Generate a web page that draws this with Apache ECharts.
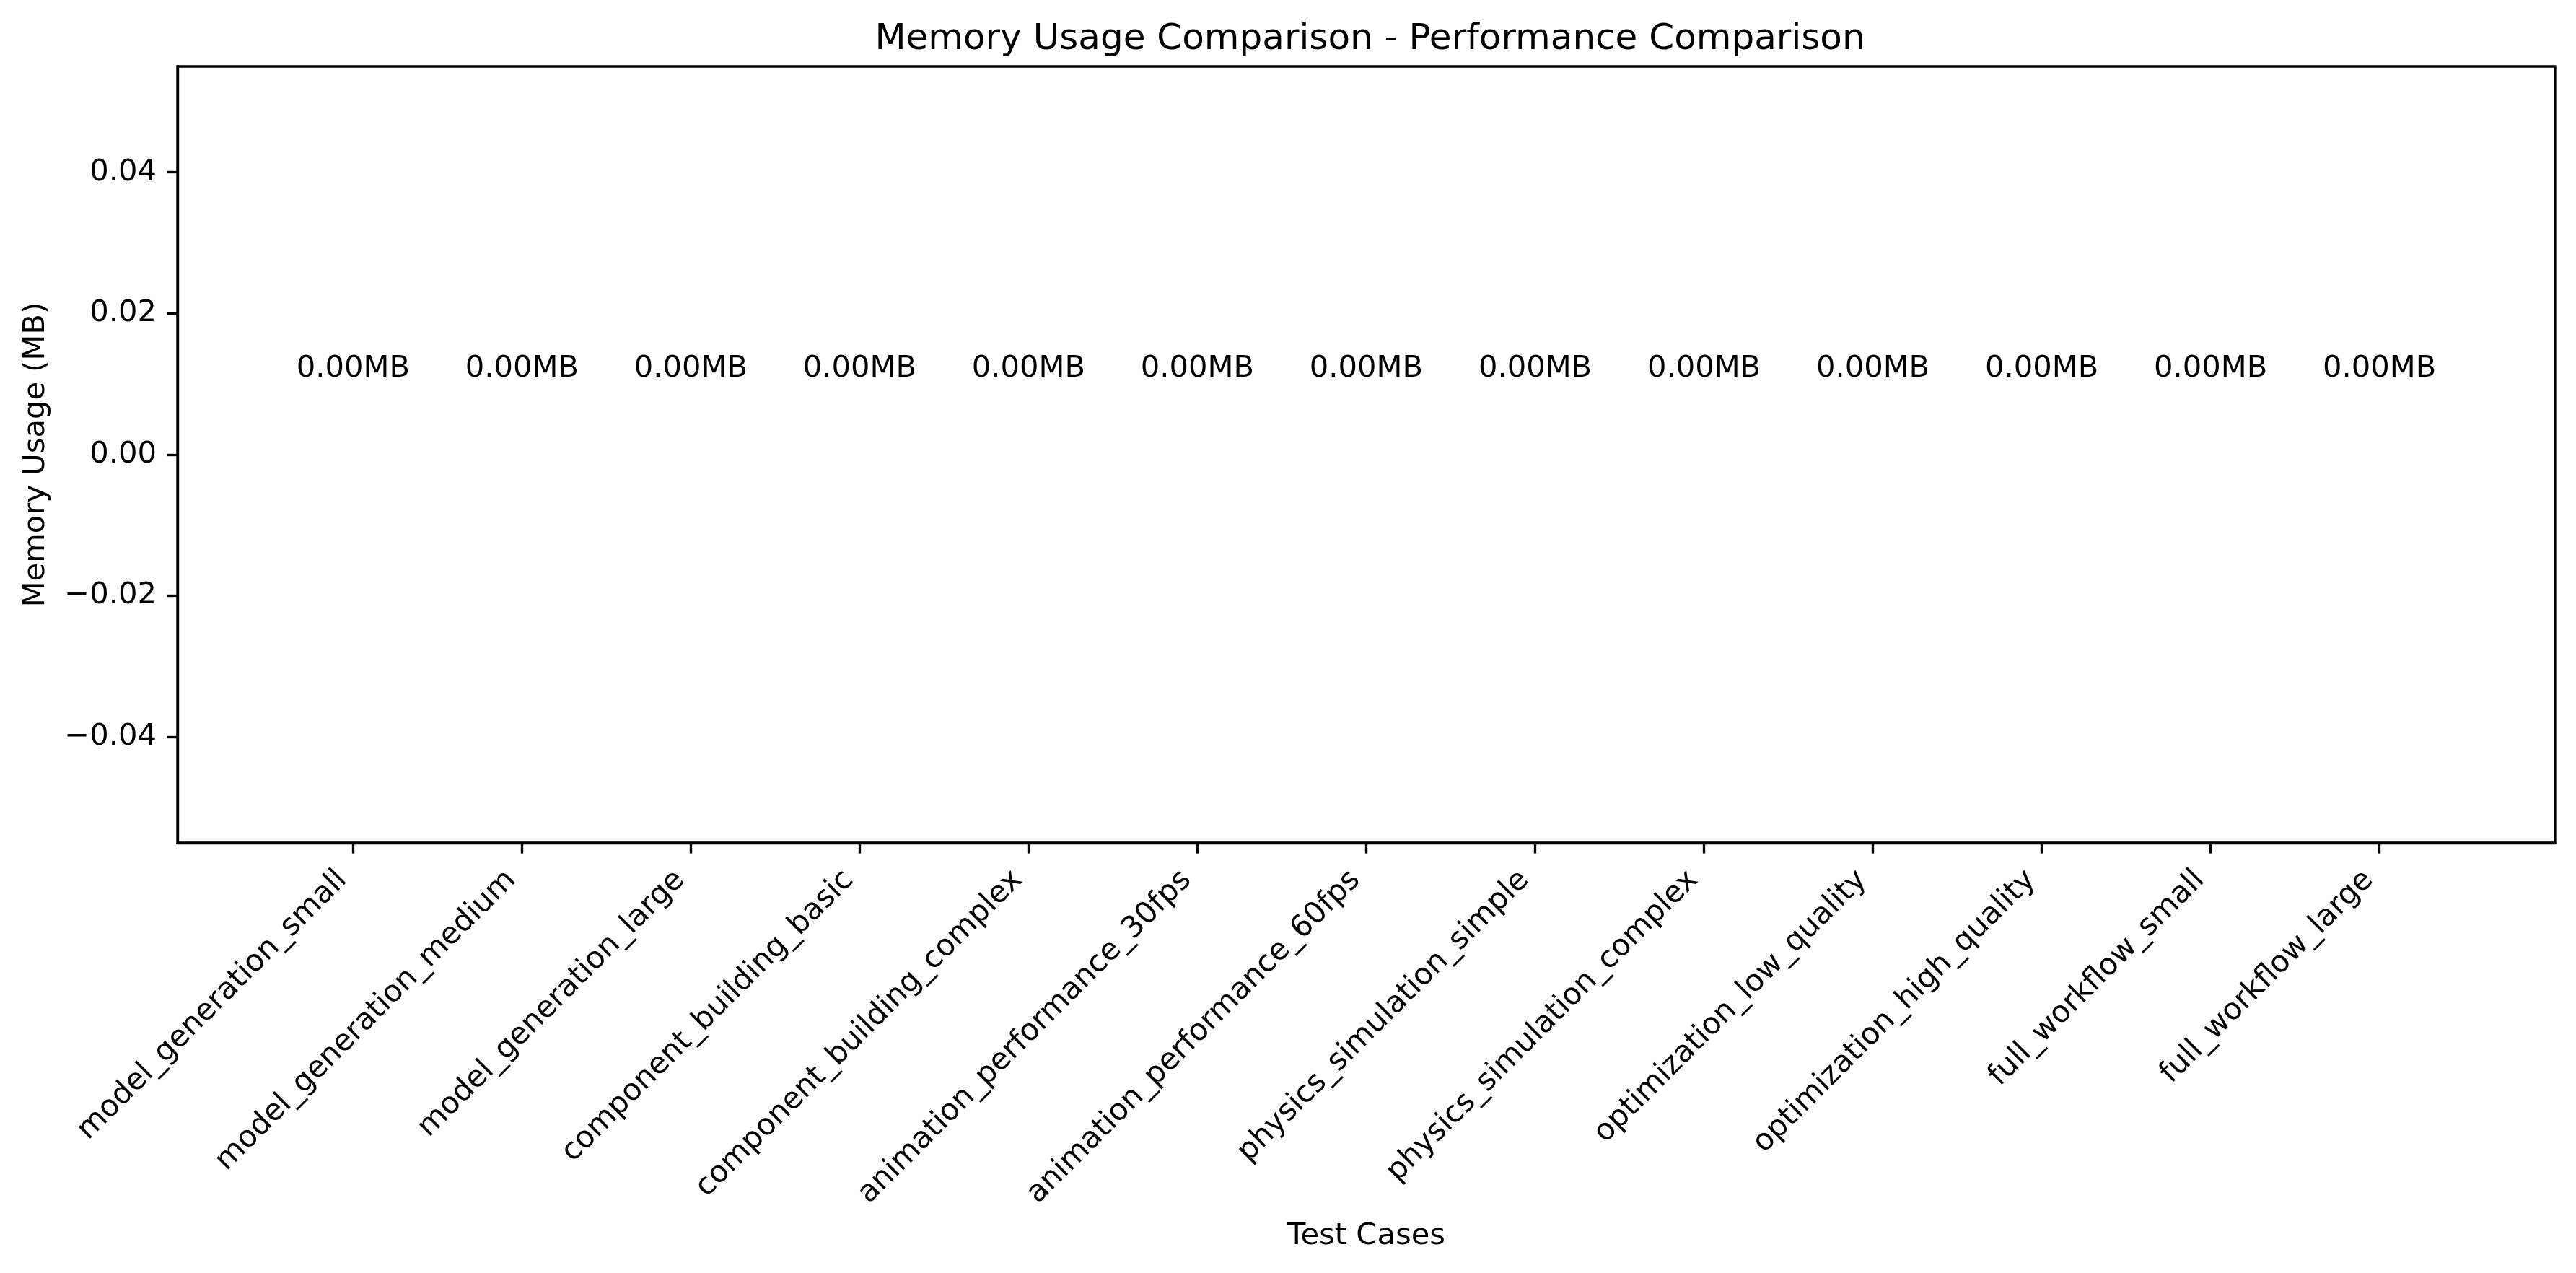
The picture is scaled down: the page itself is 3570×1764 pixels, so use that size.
<!DOCTYPE html>
<html><head><meta charset="utf-8">
<script src="https://cdn.jsdelivr.net/npm/echarts@6/dist/echarts.min.js"></script>
<style>html,body{margin:0;padding:0;background:#fff}#c{width:3570px;height:1764px}</style>
</head><body><div id="c"></div>
<script>
const categories = [
  'model_generation_small','model_generation_medium','model_generation_large',
  'component_building_basic','component_building_complex',
  'animation_performance_30fps','animation_performance_60fps',
  'physics_simulation_simple','physics_simulation_complex',
  'optimization_low_quality','optimization_high_quality',
  'full_workflow_small','full_workflow_large'
];
const memoryUsage = [0,0,0,0,0,0,0,0,0,0,0,0,0];
const yTickValues = [-0.04,-0.02,0.00,0.02,0.04];
const yMin = -0.055, yMax = 0.055;
const xMin = -1.04, xMax = 13.04;

const FONT = 'DejaVu Sans';
const LW = 3.33;
const fs = 41.67;
const gridTop = 92, gridBottomPx = 1168, gridLeft = 246, gridRightPx = 3541;
const plotH = gridBottomPx - gridTop;
const labelDist = 0.01 / (yMax - yMin) * plotH;
const idx = categories.map((_, i) => i);

const chart = echarts.init(document.getElementById('c'), null, {renderer: 'canvas'});
chart.setOption({
  animation: false,
  backgroundColor: '#fff',
  title: {
    text: 'Memory Usage Comparison - Performance Comparison',
    left: (gridLeft + gridRightPx) / 2, textAlign: 'center', top: 25,
    textStyle: {fontFamily: FONT, fontSize: 50, fontWeight: 'normal', color: '#000'}
  },
  grid: {
    left: gridLeft, right: 3570 - gridRightPx, top: gridTop, bottom: 1764 - gridBottomPx,
    show: true, borderColor: '#000', borderWidth: LW, backgroundColor: 'transparent'
  },
  xAxis: {
    type: 'value', min: xMin, max: xMax,
    name: 'Test Cases', nameLocation: 'middle', nameGap: 524,
    nameTextStyle: {fontFamily: FONT, fontSize: fs, color: '#000'},
    splitLine: {show: false},
    axisLine: {show: true, onZero: false, lineStyle: {color: '#000', width: LW}},
    axisTick: {show: true, customValues: idx, length: 14.6, lineStyle: {color: '#000', width: LW}},
    axisLabel: {
      customValues: idx, rotate: 45, align: 'right', verticalAlign: 'bottom', margin: 60,
      fontFamily: FONT, fontSize: fs, color: '#000',
      formatter: v => categories[Math.round(v)]
    }
  },
  yAxis: {
    type: 'value', min: yMin, max: yMax,
    name: 'Memory Usage (MB)', nameLocation: 'middle', nameGap: 175,
    nameTextStyle: {fontFamily: FONT, fontSize: fs, color: '#000'},
    splitLine: {show: false},
    axisLine: {show: true, onZero: false, lineStyle: {color: '#000', width: LW}},
    axisTick: {show: true, customValues: yTickValues, length: 14.6, lineStyle: {color: '#000', width: LW}},
    axisLabel: {
      customValues: yTickValues, margin: 29,
      fontFamily: FONT, fontSize: fs, color: '#000',
      formatter: v => v.toFixed(2).replace('-', '\u2212')
    }
  },
  series: [{
    type: 'bar',
    data: memoryUsage.map((v, i) => [i, v]),
    barWidth: 187,
    itemStyle: {color: '#1f77b4'},
    label: {
      show: true, position: 'top', distance: labelDist,
      fontFamily: FONT, fontSize: fs, color: '#000',
      formatter: p => p.value[1].toFixed(2) + 'MB'
    }
  }]
});
</script>
</body></html>
